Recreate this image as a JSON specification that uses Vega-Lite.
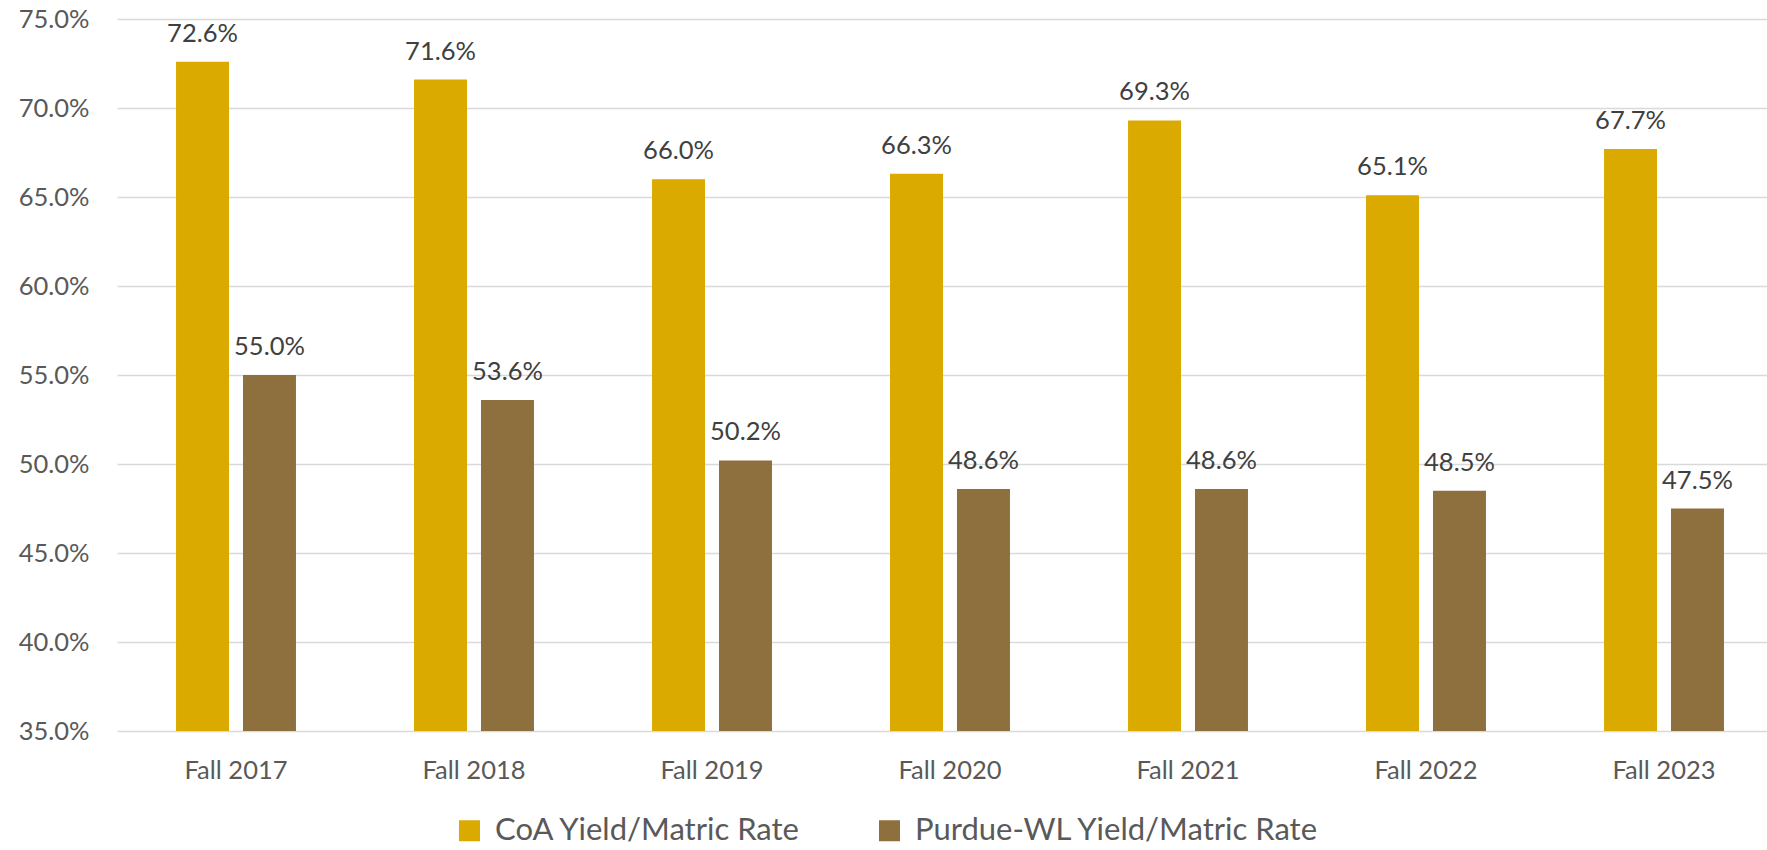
{
  "$schema": "https://vega.github.io/schema/vega-lite/v6.json",
  "width": 1650,
  "height": 712,
  "autosize": {"type": "none"},
  "padding": {"left": 117, "top": 19, "right": 0, "bottom": 119},
  "background": "white",
  "config": {
    "font": "Lato",
    "view": {"stroke": null}
  },
  "data": {
    "values": [
      {"term": "Fall 2017", "series": "CoA Yield/Matric Rate", "rate": 0.726},
      {"term": "Fall 2017", "series": "Purdue-WL Yield/Matric Rate", "rate": 0.550},
      {"term": "Fall 2018", "series": "CoA Yield/Matric Rate", "rate": 0.716},
      {"term": "Fall 2018", "series": "Purdue-WL Yield/Matric Rate", "rate": 0.536},
      {"term": "Fall 2019", "series": "CoA Yield/Matric Rate", "rate": 0.660},
      {"term": "Fall 2019", "series": "Purdue-WL Yield/Matric Rate", "rate": 0.502},
      {"term": "Fall 2020", "series": "CoA Yield/Matric Rate", "rate": 0.663},
      {"term": "Fall 2020", "series": "Purdue-WL Yield/Matric Rate", "rate": 0.486},
      {"term": "Fall 2021", "series": "CoA Yield/Matric Rate", "rate": 0.693},
      {"term": "Fall 2021", "series": "Purdue-WL Yield/Matric Rate", "rate": 0.486},
      {"term": "Fall 2022", "series": "CoA Yield/Matric Rate", "rate": 0.651},
      {"term": "Fall 2022", "series": "Purdue-WL Yield/Matric Rate", "rate": 0.485},
      {"term": "Fall 2023", "series": "CoA Yield/Matric Rate", "rate": 0.677},
      {"term": "Fall 2023", "series": "Purdue-WL Yield/Matric Rate", "rate": 0.475}
    ]
  },
  "encoding": {
    "x": {
      "field": "term",
      "type": "nominal",
      "sort": null,
      "scale": {"range": [0, 1666], "paddingInner": 0.496, "paddingOuter": 0.248},
      "axis": {
        "title": null,
        "labelAngle": 0,
        "labelFontSize": 25.5,
        "labelColor": "#595959",
        "labelBaseline": "alphabetic",
        "labelPadding": 47,
        "ticks": false,
        "tickSize": 0,
        "domain": false
      }
    },
    "xOffset": {
      "field": "series",
      "type": "nominal",
      "scale": {"paddingInner": 0.209, "paddingOuter": 0}
    },
    "y": {
      "field": "rate",
      "type": "quantitative",
      "scale": {"domain": [0.35, 0.75], "zero": false, "nice": false},
      "axis": {
        "title": null,
        "format": ".1%",
        "values": [0.35, 0.40, 0.45, 0.50, 0.55, 0.60, 0.65, 0.70, 0.75],
        "labelFontSize": 25.5,
        "labelColor": "#595959",
        "labelPadding": 28,
        "ticks": false,
        "tickSize": 0,
        "domain": false,
        "grid": true,
        "gridColor": "#d9d9d9",
        "gridWidth": 1.5
      }
    }
  },
  "layer": [
    {
      "mark": {"type": "bar"},
      "encoding": {
        "y2": {"datum": 0.35},
        "color": {
          "field": "series",
          "type": "nominal",
          "scale": {
            "domain": ["CoA Yield/Matric Rate", "Purdue-WL Yield/Matric Rate"],
            "range": ["#DAAA00", "#8E6F3E"]
          },
          "legend": {
            "title": null,
            "orient": "none",
            "direction": "horizontal",
            "legendX": 337,
            "legendY": 796,
            "symbolType": "square",
            "symbolSize": 441,
            "symbolStrokeWidth": 0,
            "labelFontSize": 31,
            "labelColor": "#595959",
            "labelOffset": 10,
            "columnPadding": 72,
            "labelLimit": 600
          }
        }
      }
    },
    {
      "mark": {"type": "text", "baseline": "alphabetic", "dy": -20, "fontSize": 25.5, "color": "#404040"},
      "encoding": {
        "text": {"field": "rate", "type": "quantitative", "format": ".1%"}
      }
    }
  ]
}
